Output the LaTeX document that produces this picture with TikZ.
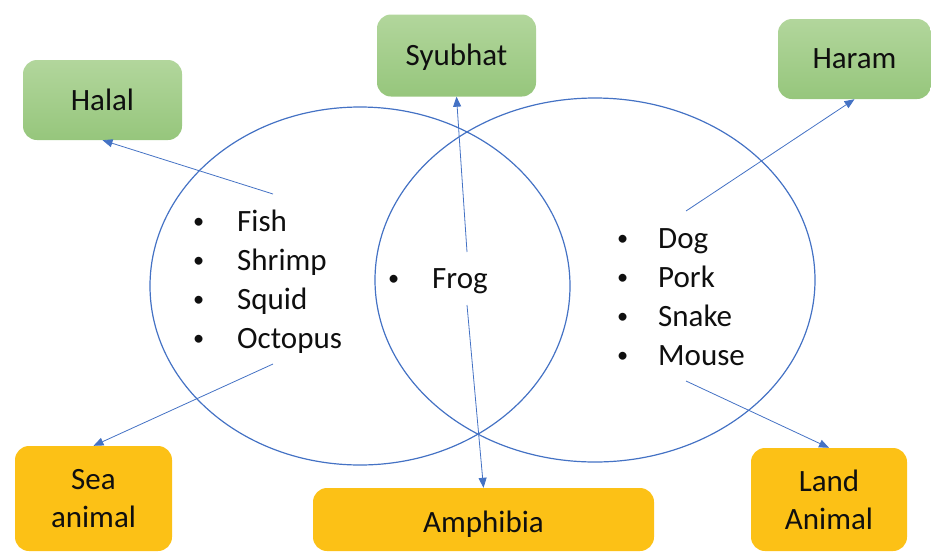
\documentclass[tikz,border=0pt]{standalone}
\usepackage{fontspec}
\setmainfont{Carlito}
\usetikzlibrary{arrows.meta}
\definecolor{lineblue}{RGB}{68,114,196}
\definecolor{greentop}{RGB}{178,214,156}
\definecolor{greenbot}{RGB}{150,198,124}
\definecolor{gold}{RGB}{252,193,22}
\definecolor{txt}{RGB}{15,15,15}
\newcommand{\bul}[1]{\makebox[#1][l]{\raisebox{2.5pt}{\scalebox{0.72}{\textbullet}}}}
\newcommand{\lowered}[2]{\raisebox{-#1}[\height][\depth]{#2}}
\begin{document}
\begin{tikzpicture}[x=1pt,y=-1pt,
  every node/.style={text=txt},
  bigfont/.style={font=\fontsize{31}{39}\selectfont},
  greenbox/.style={rounded corners=14pt, top color=greentop, bottom color=greenbot, draw=none, bigfont, inner sep=0pt, align=center},
  goldbox/.style={rounded corners=14pt, fill=gold, draw=none, font=\fontsize{31}{38}\selectfont, inner sep=0pt, align=center},
  venn/.style={draw=lineblue, line width=1.2pt},
  conn/.style={draw=lineblue, line width=0.8pt, -{Triangle[length=10pt,width=8pt]}},
  listnode/.style={bigfont, anchor=base west, inner sep=0pt}
]
\useasboundingbox (0,0) rectangle (931,552);
\clip (0,0) rectangle (931,552);

% Venn ellipses
\draw[venn] (360,286) ellipse [x radius=210, y radius=179];
\draw[venn] (595,280) ellipse [x radius=220, y radius=182];

% Category boxes
\node[greenbox, minimum width=159pt, minimum height=80pt] (halal) at (102.5,100) {Halal};
\node[greenbox, minimum width=159pt, minimum height=82pt] (syubhat) at (456.5,55.5) {\lowered{2pt}{Syubhat}};
\node[greenbox, minimum width=153pt, minimum height=80pt] (haram) at (854.5,59) {Haram};
\node[goldbox, minimum width=157pt, minimum height=105pt] (sea) at (93.5,498.5) {Sea\\animal};
\node[goldbox, minimum width=341pt, minimum height=63pt] (amph) at (483.5,519.5) {\lowered{5pt}{Amphibia}};
\node[goldbox, minimum width=156pt, minimum height=103pt] (land) at (829,499.5) {Land\\Animal};

% Lists
\node[listnode] (seal) at (193,231) {\begin{tabular}[t]{@{}l@{}l@{}}
\bul{44pt} & Fish\\ \bul{44pt} & Shrimp\\ \bul{44pt} & Squid\\ \bul{44pt} & Octopus\end{tabular}};
\node[listnode] (frogl) at (388,288) {\bul{44pt}Frog};
\node[listnode] (landl) at (617,248) {\begin{tabular}[t]{@{}l@{}l@{}}
\bul{41pt} & Dog\\ \bul{41pt} & Pork\\ \bul{41pt} & Snake\\ \bul{41pt} & Mouse\end{tabular}};

% Connector start points
\coordinate (sHalal) at (273,194);
\coordinate (sSea) at (273,364);
\coordinate (sSyub) at (467,252);
\coordinate (sAmph) at (467,305);
\coordinate (sHaram) at (686,211);
\coordinate (sLand) at (686,381);

\draw[conn] (sHalal) -- (halal.south);
\draw[conn] (sSea) -- (sea.north);
\draw[conn] (sSyub) -- (syubhat.south);
\draw[conn] (sAmph) -- (amph.north);
\draw[conn] (sHaram) -- (haram.south);
\draw[conn] (sLand) -- (land.north);
\end{tikzpicture}
\end{document}
